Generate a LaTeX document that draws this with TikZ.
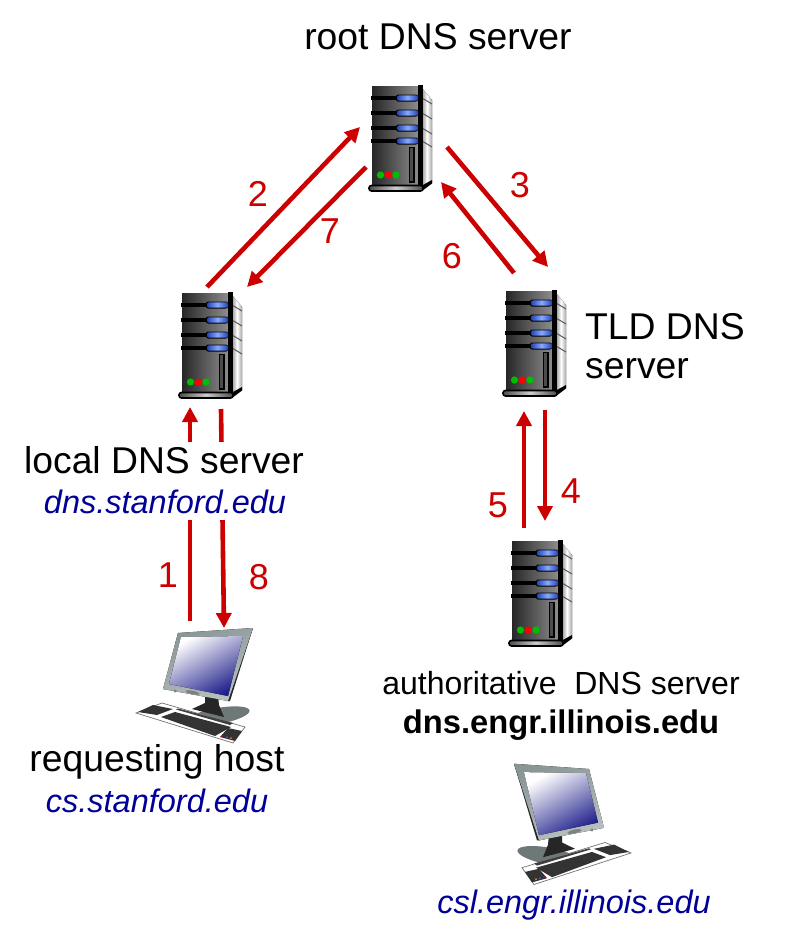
\documentclass[tikz,border=0pt]{standalone}
\usepackage{fontspec}
\setmainfont{Liberation Sans}
\usetikzlibrary{arrows.meta}
\definecolor{msgred}{HTML}{CC0000}
\definecolor{hostblue}{HTML}{000099}
\definecolor{pillblue}{HTML}{88AAFF}
\definecolor{pilldark}{HTML}{2244BB}
\definecolor{frameteal}{HTML}{8A9696}
\definecolor{screenmid}{HTML}{A8A8D8}
\definecolor{screenblue}{HTML}{20208C}
\tikzset{
  msg/.style={draw=msgred,line width=4.6pt,-{Triangle[length=15pt,width=15pt]}},
  num/.style={text=msgred,font=\fontsize{36}{36}\selectfont,inner sep=0pt},
  lbl/.style={font=\fontsize{37.3}{39}\selectfont,inner sep=0pt,align=center},
  lblsmall/.style={font=\fontsize{32}{34}\selectfont,inner sep=0pt},
  nameit/.style={text=hostblue,font=\fontsize{32.5}{34}\selectfont\itshape,inner sep=0pt},
  cover/.style={fill=white,inner sep=0pt,minimum width=284pt,minimum height=39pt},
  serverpic/.pic={
    % side panel
    \fill[left color=gray!80,right color=gray!70,middle color=white] (50,2) -- (60,14) -- (60,97) -- (50,104) -- cycle;
    \foreach \y in {12,27,42,55} \draw[black!65,line width=1pt] (50,\y) -- (60,\y+6);
    % front panel
    \fill[left color=black!85,right color=black!45] (0,0) rectangle (46,99);
    \foreach \y in {12,27,42,55} {
      \fill[black] (-1,\y-1.8) rectangle (26,\y+1.8);
      \fill[black,rounded corners=2pt] (24,\y-3.5) rectangle (46,\y+3.5);
      \fill[left color=pilldark,right color=pilldark,middle color=pillblue,rounded corners=2pt] (25,\y-2.7) rectangle (46,\y+2.7);
    }
    \draw[black,line width=1.4pt,fill=black!70] (37.5,61.5) rectangle (42,96);
    \fill[green!75!black] (8.5,89) circle (3.6);
    \fill[red] (16,89) circle (3.6);
    \fill[green!75!black] (24,89) circle (3.6);
    \fill[black] (46,-1) rectangle (50.5,104);
    % base
    \fill[black] (50,99.5) -- (60,94) -- (60,97.5) -- (50,105) -- cycle;
    \draw[black,line width=1.6pt,left color=black!70,right color=black!70,middle color=gray!40,rounded corners=2.4pt] (-3,99.5) rectangle (51,105);
  },
  hostpic/.pic={
    % foot
    \fill[frameteal!80!black,rotate around={10:(40,83)}] (40,83) ellipse (32 and 8);
    % stand
    \fill[black!85] (27,60) -- (40,63) -- (41,72) -- (46,84) -- (14,76) -- (27,70) -- cycle;
    % keyboard
    \fill[white,draw=black!55,line width=.7pt] (-42,80) -- (-16,70) -- (67,94) -- (55,110) -- cycle;
    \fill[black!80] (-40,79) -- (-25,72) -- (-5,76) -- (-21,82) -- cycle;
    \fill[black!80] (-17,84) -- (-3,79) -- (53,94) -- (37,103) -- cycle;
    \fill[black!80] (42,104) -- (50,95) -- (64,98) -- (57,108) -- cycle;
    \fill[black!75] (-2,76.5) -- (0,75.5) -- (55,90) -- (52,92) -- cycle;
    \fill[red!80!black] (45,103) circle (1);
    \fill[blue!70] (49,104) circle (1);
    \fill[orange] (53,105) circle (1);
    % monitor
    \fill[black!70!gray] (75,-5) -- (52,68) -- (49,68) -- (71,-4) -- cycle;
    \fill[left color=frameteal,right color=frameteal!60,shading angle=20] (0,0) -- (75,-5) -- (50,68) -- (-15,56) -- cycle;
    \fill[left color=white,middle color=screenmid,right color=screenblue,shading angle=30] (3,4) -- (65,3) -- (50,63) -- (-9,51) -- cycle;
    \fill[black!50] (7,58) .. controls (9,56) and (20,58) .. (22,61) .. controls (20,63) and (9,61) .. (7,58) -- cycle;
    \fill[black!50] (-3,58) circle (1.6);
  }
}
\begin{document}
\begin{tikzpicture}[x=1pt,y=-1pt]
  \useasboundingbox (0,0) rectangle (787,942);

  % servers
  \pic (root) at (372,86) {serverpic};
  \pic (local) at (182,293) {serverpic};
  \pic (tld) at (506,291) {serverpic};
  \pic (auth) at (512,541) {serverpic};

  % hosts
  \pic (req) at (178,633) {hostpic};
  \pic (csl) at (589,769) [xscale=-1,yscale=1.05] {hostpic};

  % connector ends
  \coordinate (a1) at (190,621);
  \coordinate (a1t) at (190,407);
  \coordinate (a2) at (207,287);
  \coordinate (a2t) at (360,127);
  \coordinate (a3) at (447,147);
  \coordinate (a3t) at (548,267);
  \coordinate (a4) at (545,410);
  \coordinate (a4t) at (545,521);
  \coordinate (a5) at (524,528);
  \coordinate (a5t) at (524,411);
  \coordinate (a6) at (514,273);
  \coordinate (a6t) at (441,182);
  \coordinate (a7) at (366,167);
  \coordinate (a7t) at (247,287);
  \coordinate (a8) at (221,409);
  \coordinate (a8t) at (224,628);

  \draw[msg] (a1) -- (a1t);
  \draw[msg] (a2) -- (a2t);
  \draw[msg] (a3) -- (a3t);
  \draw[msg] (a4) -- (a4t);
  \draw[msg] (a5) -- (a5t);
  \draw[msg] (a6) -- (a6t);
  \draw[msg] (a7) -- (a7t);
  \draw[msg] (a8) -- (a8t);

  % labels
  \node[cover] (localbg) at (164,461) {};
  \node[cover] (stanbg) at (164,500) {};
  \node[lbl] (rootlbl) at (438,37) {root DNS server};
  \node[lbl] (locallbl) at (164,460) {local DNS server};
  \node[nameit] (localname) at (165,502) {dns.stanford.edu};
  \node[lbl,align=left,anchor=west] (tldlbl) at (585,346) {TLD DNS\\server};
  \node[lbl] (reqlbl) at (157,762) {requesting host};
  \node[nameit] (reqname) at (157,801) {cs.stanford.edu};
  \node[lblsmall] (authlbl) at (561,683) {authoritative\ \ DNS server};
  \node[lblsmall,font=\fontsize{32.7}{34}\selectfont\bfseries] (authname) at (561,725) {dns.engr.illinois.edu};
  \node[nameit] (cslname) at (574,905) {csl.engr.illinois.edu};

  \node[num] (n1) at (168,575) {1};
  \node[num] (n2) at (258,194) {2};
  \node[num] (n3) at (520,185) {3};
  \node[num] (n4) at (571,491) {4};
  \node[num] (n5) at (498,505) {5};
  \node[num] (n6) at (452,256) {6};
  \node[num] (n7) at (330,231) {7};
  \node[num] (n8) at (259,577) {8};
\end{tikzpicture}
\end{document}
